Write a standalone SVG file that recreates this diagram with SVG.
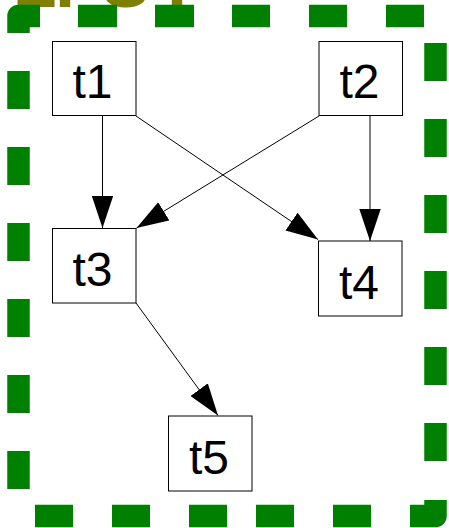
<svg xmlns="http://www.w3.org/2000/svg" width="449" height="528" viewBox="0 0 449 528">
  <style>
    .frame { fill: none; stroke: #008000; stroke-width: 22.5; stroke-linecap: butt; stroke-linejoin: round; }
    .title { fill: #808000; font-family: "Liberation Sans", Arial, sans-serif; font-weight: bold; font-size: 72px; }
    .node rect { fill: #ffffff; stroke: #000000; stroke-width: 1; }
    .node text { fill: #000000; font-family: "Liberation Sans", Arial, sans-serif; font-size: 48px; text-anchor: middle; }
    .edge { fill: none; stroke: #000000; stroke-width: 1; }
  </style>
  <defs>
    <marker id="arrow" markerUnits="userSpaceOnUse" markerWidth="33" markerHeight="22" refX="32" refY="10.7" orient="auto">
      <path d="M0,0 L32,10.7 L0,21.4 Z" fill="#000000"/>
    </marker>
  </defs>
  <rect width="449" height="528" fill="#ffffff"/>

  <!-- cluster label -->
  <text class="title" y="7"><tspan x="12.7">L</tspan><tspan x="55">I</tspan><tspan x="101.5">S</tspan><tspan x="155">T</tspan></text>

  <!-- cluster border: heavy dashed frame with rounded outer corners -->
  <g id="cluster">
    <path class="frame" d="M18.5,33 V16 H40
      M78,16 H117 M155,16 H194 M232,16 H270 M309,16 H347 M386,16 H424
      M435.5,43 V81 M435.5,119 V157 M435.5,195 V233 M435.5,271 V309 M435.5,347 V385 M435.5,423 V461
      M435.5,500 V516 H410
      M371,516 H333 M294,516 H256 M227,516 H189 M150,516 H112 M73,516 H35
      M18.5,489 V451 M18.5,413 V375 M18.5,337 V299 M18.5,261 V223 M18.5,185 V147 M18.5,109 V71"/>
  </g>

  <!-- connectors -->
  <g id="edges">
    <line class="edge" x1="102.5" y1="116" x2="102.5" y2="228" marker-end="url(#arrow)"/>
    <line class="edge" x1="136" y1="116" x2="318" y2="239.5" marker-end="url(#arrow)"/>
    <line class="edge" x1="319" y1="116" x2="136.5" y2="228" marker-end="url(#arrow)"/>
    <line class="edge" x1="370" y1="116" x2="370" y2="241" marker-end="url(#arrow)"/>
    <line class="edge" x1="136" y1="303" x2="218" y2="415.5" marker-end="url(#arrow)"/>
  </g>

  <!-- nodes -->
  <g id="t1" class="node">
    <rect x="52.5" y="41.5" width="83.5" height="74"/>
    <text x="92.5" y="97.5">t1</text>
  </g>
  <g id="t2" class="node">
    <rect x="319" y="41.5" width="83.5" height="74"/>
    <text x="359.5" y="97.5">t2</text>
  </g>
  <g id="t3" class="node">
    <rect x="52.5" y="228.5" width="83.5" height="74.5"/>
    <text x="92.5" y="285.5">t3</text>
  </g>
  <g id="t4" class="node">
    <rect x="318.5" y="241" width="83.5" height="75"/>
    <text x="359" y="298.5">t4</text>
  </g>
  <g id="t5" class="node">
    <rect x="168.5" y="416" width="83.5" height="75"/>
    <text x="209" y="474">t5</text>
  </g>
</svg>
